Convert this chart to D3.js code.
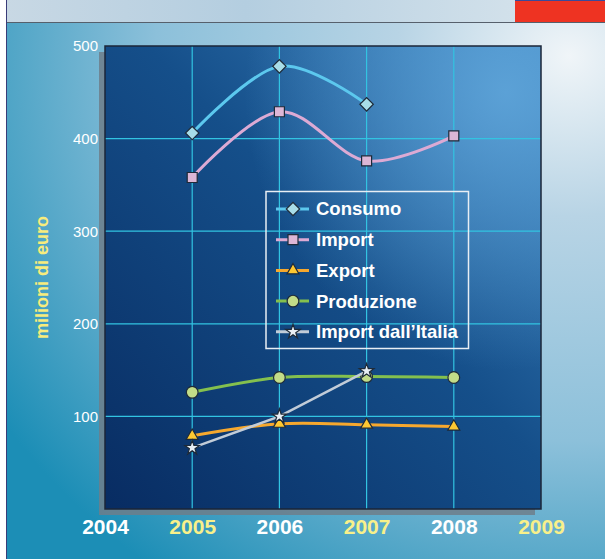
<!DOCTYPE html>
<html>
<head>
<meta charset="utf-8">
<script src="https://cdn.jsdelivr.net/npm/d3@7"></script>
<style>
  body { margin: 0; background: #ffffff; }
  svg { display: block; font-family: "Liberation Sans", Arial, sans-serif; }
</style>
</head>
<body>
<svg id="chart"></svg>
<script>
// data
var years = [2005, 2006, 2007, 2008];
var xTicks = [2004, 2005, 2006, 2007, 2008, 2009];
var yTicks = [100, 200, 300, 400, 500];
var consumo = [406, 478, 437, null];
var importVals = [358, 429, 376, 403];
var exportVals = [79, 92, 91, 89];
var produzione = [126, 142, 143, 142];
var importItalia = [66, 100, 149, null];

var width = 605, height = 559;
var margin = {top: 46, right: 64, bottom: 50, left: 105};
var w = width - margin.left - margin.right;
var h = height - margin.top - margin.bottom;

var svg = d3.select('#chart')
  .attr('width', width)
  .attr('height', height);

var defs = svg.append('defs');

var bgGrad = defs.append('radialGradient')
  .attr('id', 'bg')
  .attr('cx', 0.94).attr('cy', 0.1).attr('r', 1.15);
bgGrad.append('stop').attr('offset', '0%').attr('stop-color', '#f0f5f8');
bgGrad.append('stop').attr('offset', '25%').attr('stop-color', '#b8d4e5');
bgGrad.append('stop').attr('offset', '60%').attr('stop-color', '#8cc0da');
bgGrad.append('stop').attr('offset', '100%').attr('stop-color', '#1c8eb6');

var stripGrad = defs.append('linearGradient')
  .attr('id', 'strip')
  .attr('x1', 0).attr('y1', 0).attr('x2', 1).attr('y2', 0);
stripGrad.append('stop').attr('offset', '0%').attr('stop-color', '#c8d8e4');
stripGrad.append('stop').attr('offset', '40%').attr('stop-color', '#b4cee0');
stripGrad.append('stop').attr('offset', '100%').attr('stop-color', '#dce7ee');

var plotGrad = defs.append('linearGradient')
  .attr('id', 'plotbg')
  .attr('x1', 0).attr('y1', 1).attr('x2', 1).attr('y2', 0);
plotGrad.append('stop').attr('offset', '0%').attr('stop-color', '#082c62');
plotGrad.append('stop').attr('offset', '55%').attr('stop-color', '#154f8a');
plotGrad.append('stop').attr('offset', '100%').attr('stop-color', '#3d84c0');

var glow = defs.append('radialGradient')
  .attr('id', 'glow')
  .attr('cx', 0.92).attr('cy', 0.1).attr('r', 0.6);
glow.append('stop').attr('offset', '0%').attr('stop-color', '#62a8dc').attr('stop-opacity', 0.85);
glow.append('stop').attr('offset', '100%').attr('stop-color', '#62a8dc').attr('stop-opacity', 0);

// page background
svg.append('rect')
  .attr('x', 6).attr('y', 0)
  .attr('width', width - 6).attr('height', height)
  .attr('fill', 'url(#bg)');

// top strip
svg.append('rect')
  .attr('x', 6).attr('y', 0)
  .attr('width', width - 6).attr('height', 22)
  .attr('fill', 'url(#strip)');
svg.append('line')
  .attr('x1', 6).attr('x2', width)
  .attr('y1', 22.5).attr('y2', 22.5)
  .attr('stroke', '#56606c').attr('stroke-width', 1.2);
svg.append('rect')
  .attr('x', 515).attr('y', 0)
  .attr('width', 90).attr('height', 22)
  .attr('fill', '#ee3322');
svg.append('line')
  .attr('x1', 515).attr('x2', width)
  .attr('y1', 0.5).attr('y2', 0.5)
  .attr('stroke', '#3a4a9a');
svg.append('line')
  .attr('x1', 6.5).attr('x2', 6.5)
  .attr('y1', 0).attr('y2', height)
  .attr('stroke', '#3a3c78').attr('stroke-width', 1);

var x = d3.scaleLinear().domain([2004, 2009]).range([0, w]);
var y = d3.scaleLinear().domain([0, 500]).range([h, 0]);

var g = svg.append('g')
  .attr('transform', 'translate(' + margin.left + ',' + margin.top + ')');

// drop shadow of the plot
g.append('rect')
  .attr('x', -6).attr('y', 6)
  .attr('width', w).attr('height', h)
  .attr('fill', '#6e7e8a').attr('opacity', 0.85);

g.append('rect')
  .attr('width', w).attr('height', h)
  .attr('fill', 'url(#plotbg)');
g.append('rect')
  .attr('width', w).attr('height', h)
  .attr('fill', 'url(#glow)');

// grid
g.append('g')
  .selectAll('line')
  .data(years)
  .enter().append('line')
    .attr('x1', d => x(d)).attr('x2', d => x(d))
    .attr('y1', 0).attr('y2', h)
    .attr('stroke', '#32c4e2').attr('stroke-width', 1.2);

g.append('g')
  .selectAll('line')
  .data(yTicks.filter(d => d < 500))
  .enter().append('line')
    .attr('x1', 0).attr('x2', w)
    .attr('y1', d => y(d)).attr('y2', d => y(d))
    .attr('stroke', '#32c4e2').attr('stroke-width', 1.2);

g.append('rect')
  .attr('width', w).attr('height', h)
  .attr('fill', 'none')
  .attr('stroke', '#1b2638').attr('stroke-width', 1.5);

// y axis labels
var yAxis = g.append('g')
  .attr('transform', 'translate(-7,0)')
  .call(d3.axisLeft(y).tickValues(yTicks).tickSize(0).tickPadding(0));
yAxis.select('.domain').remove();
yAxis.selectAll('text')
  .attr('fill', '#ffffff')
  .attr('font-size', 15)
  .attr('font-family', '"Liberation Sans", Arial, sans-serif');

// x axis labels
var xAxis = g.append('g')
  .attr('transform', 'translate(0,' + h + ')')
  .call(d3.axisBottom(x).tickValues(xTicks).tickFormat(d3.format('d')).tickSize(0).tickPadding(10));
xAxis.select('.domain').remove();
xAxis.selectAll('text')
  .attr('fill', (d, i) => i % 2 ? '#f8f08a' : '#ffffff')
  .attr('font-size', 21)
  .attr('font-weight', 'bold')
  .attr('font-family', '"Liberation Sans", Arial, sans-serif');

// y title
svg.append('text')
  .attr('transform', 'translate(48,' + (margin.top + h / 2) + ') rotate(-90)')
  .attr('text-anchor', 'middle')
  .attr('fill', '#f8ec7c')
  .attr('font-size', 18)
  .attr('font-weight', 'bold')
  .text('milioni di euro');

// series
var series = [
  {name: 'Consumo', values: consumo, line: '#5cc8ee', fill: '#a8dde8', shape: 'diamond', curve: true, lw: 3},
  {name: 'Import', values: importVals, line: '#dcaad4', fill: '#dcb6d6', shape: 'square', curve: true, lw: 3},
  {name: 'Export', values: exportVals, line: '#f6a82e', fill: '#fec832', shape: 'triangle', curve: true, lw: 3},
  {name: 'Produzione', values: produzione, line: '#84c04e', fill: '#c2dc88', shape: 'circle', curve: true, lw: 3},
  {name: 'Import dall\u2019Italia', values: importItalia, line: '#c2ccd8', fill: '#e8eef4', shape: 'star', curve: false, lw: 2.5}
];

var symbols = {
  diamond: d3.symbol().type(d3.symbolSquare).size(90),
  square: d3.symbol().type(d3.symbolSquare).size(100),
  triangle: d3.symbol().type(d3.symbolTriangle).size(62),
  circle: d3.symbol().type(d3.symbolCircle).size(108),
  star: d3.symbol().type(d3.symbolStar).size(66)
};

function marker(sel, s) {
  sel.append('path')
    .attr('d', symbols[s.shape]())
    .attr('transform', s.shape === 'diamond' ? 'rotate(45)' : null)
    .attr('fill', s.fill)
    .attr('stroke', '#1e2a38')
    .attr('stroke-width', 1.2);
}

series.forEach(function(s) {
  var pts = years.map((yr, i) => ({year: yr, value: s.values[i]}))
    .filter(d => d.value != null);
  var line = d3.line()
    .x(d => x(d.year))
    .y(d => y(d.value))
    .curve(s.curve ? d3.curveCatmullRom.alpha(0) : d3.curveLinear);
  g.append('path')
    .datum(pts)
    .attr('d', line)
    .attr('fill', 'none')
    .attr('stroke', s.line)
    .attr('stroke-width', s.lw);
  g.append('g')
    .selectAll('g')
    .data(pts)
    .enter().append('g')
      .attr('transform', d => 'translate(' + x(d.year) + ',' + y(d.value) + ')')
      .each(function() { marker(d3.select(this), s); });
});

// legend
var lx = 266, ly = 191.5, lw = 202.5, lh = 157;
svg.append('rect')
  .attr('x', lx).attr('y', ly)
  .attr('width', lw).attr('height', lh)
  .attr('fill', 'none')
  .attr('stroke', '#e8eef4').attr('stroke-width', 1.5);

var legend = svg.append('g')
  .selectAll('g')
  .data(series)
  .enter().append('g')
    .attr('transform', (d, i) => 'translate(' + lx + ',' + (ly + 17.5 + i * 30.7) + ')');

legend.append('line')
  .attr('x1', 10).attr('x2', 43)
  .attr('stroke', d => d.line)
  .attr('stroke-width', 3);

legend.append('g')
  .attr('transform', 'translate(27,0)')
  .each(function(d) { marker(d3.select(this), d); });

legend.append('text')
  .attr('x', 50)
  .attr('dy', '0.35em')
  .attr('fill', '#ffffff')
  .attr('font-size', 18.5)
  .attr('font-weight', 'bold')
  .text(d => d.name);
</script>
</body>
</html>
